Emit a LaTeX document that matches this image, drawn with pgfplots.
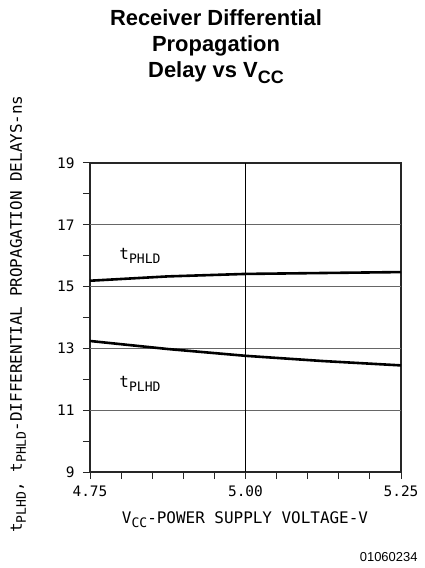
\documentclass[border=0pt]{standalone}
\usepackage{fontspec}
\usepackage{graphicx}
\usepackage{pgfplots}
\pgfplotsset{compat=1.18}
\newfontfamily\plotfont{DejaVu Sans Mono}
\newfontfamily\headfont{Liberation Sans}
\newcommand\sub[1]{\raisebox{-0.45ex}{\scalebox{0.82}{#1}}}
\begin{document}
\begin{tikzpicture}
\begin{axis}[
    at={(0,0)}, anchor=south west,
    scale only axis,
    width=311bp, height=309bp,
    xmin=4.75, xmax=5.25, ymin=9, ymax=19,
    axis line style={black!85, line width=1.1bp},
    xtick={4.75,5.00,5.25}, xticklabels={4.75,5.00,5.25},
    minor xtick={4.80,4.85,4.90,4.95,5.05,5.10,5.15,5.20},
    ytick={9,11,13,15,17,19}, yticklabels={9,11,13,15,17,19},
    minor ytick={10,12,14,16,18},
    tick align=outside, tick pos=left,
    major tick length=7bp, minor tick length=7bp,
    every tick/.style={black!85, line width=1bp},
    ticklabel style={font=\plotfont\fontsize{14.5}{16}\selectfont},
    xticklabel style={yshift=-3bp},
    yticklabel style={xshift=-5bp},
    /pgf/number format/assume math mode=true,
    clip=false,
]
% grid
\addplot[black!60, line width=1.1bp] coordinates {(4.75,11) (5.25,11)};
\addplot[black!60, line width=1.1bp] coordinates {(4.75,13) (5.25,13)};
\addplot[black!60, line width=1.1bp] coordinates {(4.75,15) (5.25,15)};
\addplot[black!60, line width=1.1bp] coordinates {(4.75,17) (5.25,17)};
\addplot[black, line width=1bp] coordinates {(5.00,9) (5.00,19)};
% curves
\addplot[black, line width=2.6bp] coordinates {
  (4.75,15.19) (4.875,15.33) (5.00,15.41) (5.125,15.44) (5.25,15.47)};
\addplot[black, line width=2.6bp] coordinates {
  (4.75,13.24) (4.875,12.98) (5.00,12.76) (5.125,12.59) (5.25,12.45)};
\node[font=\plotfont\fontsize{16}{18}\selectfont, anchor=west, inner sep=0pt] at (axis cs:4.797,16.0) {t\sub{PHLD}};
\node[font=\plotfont\fontsize{16}{18}\selectfont, anchor=west, inner sep=0pt] at (axis cs:4.797,11.85) {t\sub{PLHD}};
\end{axis}
\path[use as bounding box] (-90bp,-96bp) rectangle (335bp,472bp);
\node[font=\headfont\bfseries\fontsize{22}{26.5}\selectfont, align=center, anchor=north, inner sep=0pt]
  at (126bp,463bp) {Receiver Differential\\Propagation\\Delay vs V\sub{CC}};
\node[font=\plotfont\fontsize{16}{18}\selectfont, rotate=90] at (-72bp,158bp)
  {t\sub{PLHD}, t\sub{PHLD}-DIFFERENTIAL PROPAGATION DELAYS-ns};
\node[font=\plotfont\fontsize{16}{18}\selectfont] at (155bp,-48bp)
  {V\sub{CC}-POWER SUPPLY VOLTAGE-V};
\node[font=\headfont\fontsize{13}{15}\selectfont, anchor=east] at (331bp,-85bp) {01060234};
\end{tikzpicture}
\end{document}
